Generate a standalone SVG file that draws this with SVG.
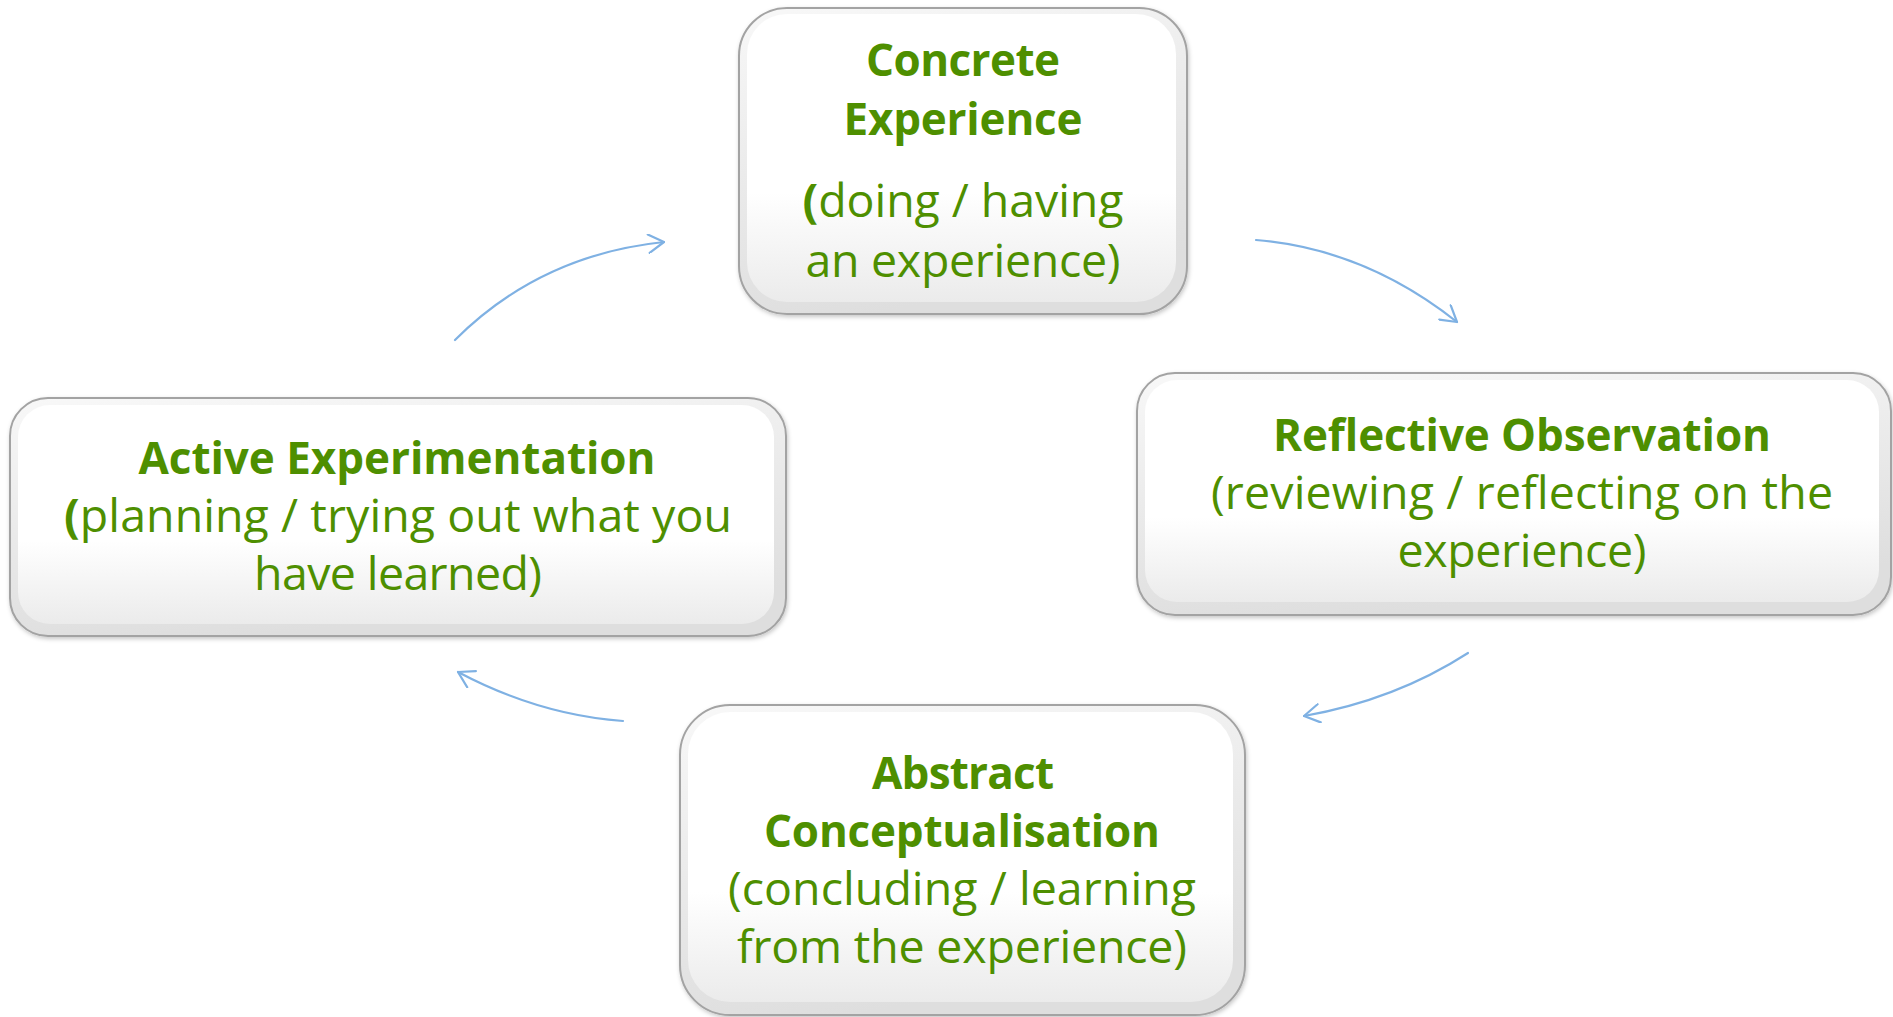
<svg xmlns="http://www.w3.org/2000/svg" width="1893" height="1017" viewBox="0 0 1893 1017">
<style>
  .outer { fill: url(#bevel); stroke: #a3a3a3; stroke-width: 2; filter: url(#sh); }
  .inner { fill: url(#face); stroke: none; }
  .t { font-family: "Open Sans", "Liberation Sans", sans-serif; fill: #4e8f00; text-anchor: middle; }
  .b { font-weight: bold; font-size: 44px; }
  .r { font-weight: normal; font-size: 46.5px; }
  .bp { font-weight: bold; }
  .conn path { fill: none; stroke: #7fb1e3; stroke-width: 2.2; stroke-linecap: round; marker-end: url(#arr); }
</style>
<defs>
  <linearGradient id="bevel" x1="0" y1="0" x2="0.3" y2="1">
    <stop offset="0" stop-color="#f8f8f8"/>
    <stop offset="1" stop-color="#dedede"/>
  </linearGradient>
  <linearGradient id="face" x1="0" y1="0" x2="0" y2="1">
    <stop offset="0" stop-color="#ffffff"/>
    <stop offset="0.62" stop-color="#ffffff"/>
    <stop offset="1" stop-color="#ebebeb"/>
  </linearGradient>
  <filter id="sh" x="-5%" y="-5%" width="110%" height="115%">
    <feDropShadow dx="1" dy="2" stdDeviation="2" flood-color="#000" flood-opacity="0.22"/>
  </filter>
  <marker id="arr" viewBox="0 0 20 20" refX="19" refY="10" markerWidth="20" markerHeight="20" markerUnits="userSpaceOnUse" orient="auto">
    <path d="M3.6,0.8 L19,10 L3.6,19.2" fill="none" stroke="#7fb1e3" stroke-width="2.2" stroke-linecap="round" stroke-linejoin="round"/>
  </marker>
</defs>
<rect width="1893" height="1017" fill="#ffffff"/>

<g id="connectors" class="conn">
  <path d="M455,340 Q540,255 664,242"/>
  <path d="M1256,240 Q1365,249 1457,322"/>
  <path d="M1468,653 Q1395,700 1304,716"/>
  <path d="M623,721 Q539,715 458,672"/>
</g>

<g id="node-concrete">
  <rect class="outer" x="739" y="8" width="448" height="306" rx="48"/>
  <rect class="inner" x="747" y="14" width="429" height="288" rx="40"/>
  <text class="t b" x="963" y="76" textLength="194">Concrete</text>
  <text class="t b" x="963" y="135" textLength="239">Experience</text>
  <text class="t r" x="963" y="217" textLength="321"><tspan class="bp">(</tspan>doing / having</text>
  <text class="t r" x="963" y="277" textLength="315">an experience)</text>
</g>

<g id="node-reflective">
  <rect class="outer" x="1137" y="373" width="754" height="242" rx="38"/>
  <rect class="inner" x="1145" y="380" width="734" height="222" rx="32"/>
  <text class="t b" x="1522" y="451" textLength="498">Reflective Observation</text>
  <text class="t r" x="1522" y="509" textLength="622">(reviewing / reflecting on the</text>
  <text class="t r" x="1522" y="567" textLength="249">experience)</text>
</g>

<g id="node-abstract">
  <rect class="outer" x="680" y="705" width="565" height="310" rx="50"/>
  <rect class="inner" x="688" y="712" width="545" height="290" rx="42"/>
  <text class="t b" x="963" y="789" textLength="182">Abstract</text>
  <text class="t b" x="962" y="847" textLength="396">Conceptualisation</text>
  <text class="t r" x="962" y="905" textLength="468">(concluding / learning</text>
  <text class="t r" x="962" y="963" textLength="450">from the experience)</text>
</g>

<g id="node-active">
  <rect class="outer" x="10" y="398" width="776" height="238" rx="38"/>
  <rect class="inner" x="18" y="405" width="756" height="219" rx="32"/>
  <text class="t b" x="397" y="474" textLength="517">Active Experimentation</text>
  <text class="t r" x="398" y="532" textLength="668"><tspan class="bp">(</tspan>planning / trying out what you</text>
  <text class="t r" x="398" y="590" textLength="288">have learned)</text>
</g>
</svg>
